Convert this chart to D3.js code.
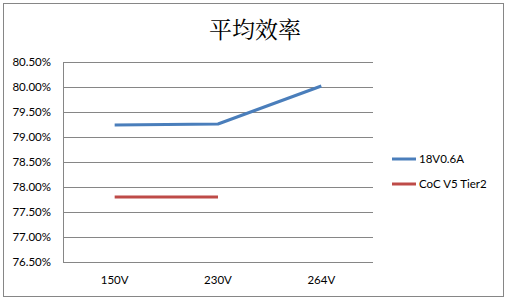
<!DOCTYPE html>
<html><head><meta charset="utf-8">
<script src="https://cdn.jsdelivr.net/npm/d3@7"></script>
<style>body{margin:0;background:#fff}svg{display:block}</style>
</head><body>
<script>
const categories = ["150V", "230V", "264V"];
const seriesNames = ["18V0.6A", "CoC V5 Tier2"];
const series1 = [79.24, 79.26, 80.02];
const series2 = [77.80, 77.80, null];
const yTicks = [76.5, 77.0, 77.5, 78.0, 78.5, 79.0, 79.5, 80.0, 80.5];
const colors = ["#4a7ebb", "#be4b48"];

const W = 508, H = 301;
const svg = d3.select("body").append("svg").attr("width", W).attr("height", H);
svg.append("rect").attr("x", 3.5).attr("y", 3.5).attr("width", 500).attr("height", 293)
  .attr("fill", "#fff").attr("stroke", "#868686").attr("stroke-width", 1);

const plot = {l: 63, r: 373, t: 62, b: 262};
const x = d3.scaleBand().domain(categories).range([plot.l, plot.r]);
const y = d3.scaleLinear().domain([76.5, 80.5]).range([plot.b, plot.t]);

svg.append("text").attr("x", 255).attr("y", 38).attr("text-anchor", "middle")
  .attr("font-family", "'Noto Serif CJK SC', serif").attr("font-size", 23).text("平均效率");

const yAxis = d3.axisLeft(y).tickValues(yTicks).tickSize(0).tickPadding(12)
  .tickFormat(d => d.toFixed(2) + "%");
const gy = svg.append("g").attr("transform", `translate(${plot.l},0)`).call(yAxis);
gy.select(".domain").remove();
gy.selectAll("text").attr("font-family", "Lato, sans-serif").attr("font-size", 11.5).attr("fill", "#000");

svg.append("g").selectAll("line").data(yTicks).join("line")
  .attr("x1", plot.l).attr("x2", plot.r)
  .attr("y1", d => Math.round(y(d)) + 0.5).attr("y2", d => Math.round(y(d)) + 0.5)
  .attr("stroke", "#868686");
svg.append("line").attr("x1", plot.l + 0.5).attr("x2", plot.l + 0.5).attr("y1", plot.t).attr("y2", plot.b)
  .attr("stroke", "#868686");

const xAxis = d3.axisBottom(x).tickSize(0).tickPadding(14);
const gx = svg.append("g").attr("transform", `translate(0,${plot.b})`).call(xAxis);
gx.select(".domain").remove();
gx.selectAll("text").attr("font-family", "Lato, sans-serif").attr("font-size", 11.5).attr("fill", "#000");

const line = d3.line().defined(d => d[1] != null)
  .x(d => x(d[0]) + x.bandwidth() / 2).y(d => y(d[1]));
[series1, series2].forEach((s, i) => {
  svg.append("path").datum(categories.map((c, j) => [c, s[j]]))
    .attr("d", line).attr("fill", "none").attr("stroke", colors[i]).attr("stroke-width", 3)
    .attr("stroke-linejoin", "round");
});

const lg = svg.append("g");
seriesNames.forEach((n, i) => {
  const ly = 159 + i * 25;
  lg.append("line").attr("x1", 392).attr("x2", 416).attr("y1", ly).attr("y2", ly)
    .attr("stroke", colors[i]).attr("stroke-width", 3);
  lg.append("text").attr("x", 419).attr("y", ly + 4).attr("font-family", "Lato, sans-serif")
    .attr("font-size", 11.5).text(n);
});
</script>
</body></html>
